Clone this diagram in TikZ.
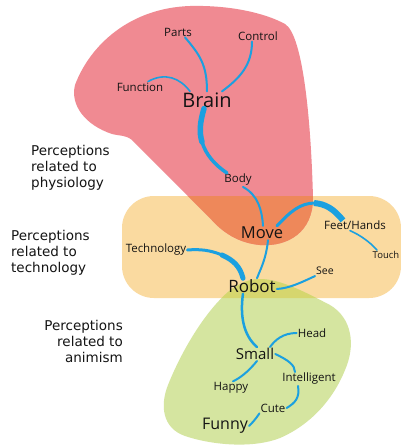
\documentclass[tikz,border=0pt]{standalone}
\usepackage{fontspec}
\setmainfont{Open Sans}
\newfontfamily\sidefont{DejaVu Sans}
\definecolor{pinkc}{RGB}{240,138,146}
\definecolor{yellowc}{RGB}{250,218,160}
\definecolor{orangec}{RGB}{238,136,90}
\definecolor{greenc}{RGB}{213,229,160}
\definecolor{ygc}{RGB}{214,214,110}
\definecolor{bluec}{RGB}{27,160,224}
\definecolor{textc}{RGB}{20,20,20}
\begin{document}
\begin{tikzpicture}[x=1pt,y=-1pt,
  lbl/.style={inner sep=1pt,text=textc,font=\fontsize{11.5}{13}\selectfont},
  big/.style={inner sep=1pt,text=textc},
  side/.style={inner sep=0pt,text=textc,font=\sidefont\fontsize{13.5}{16}\selectfont},
  conn/.style={draw=bluec,line width=2pt,line cap=round},
  thick conn/.style={draw=bluec,line width=4.5pt,line cap=round}]
\useasboundingbox (0,0) rectangle (401,445);
\fill[white] (0,0) rectangle (401,445);
% regions
\def\pinkpath{(75,85) .. controls (90,45) and (130,8) .. (190,6) .. controls (230,5) and (265,13) .. (285,24) .. controls (303,35) and (311,120) .. (313,198) .. controls (313,232) and (288,247) .. (260,245) .. controls (238,243) and (222,232) .. (210,218) -- (132,140) .. controls (126,135) and (120,136) .. (112,134) .. controls (85,125) and (70,105) .. (75,85) -- cycle}
\def\greenpath{(260,279) .. controls (280,279) and (305,292) .. (330,305) .. controls (352,318) and (356,345) .. (345,370) .. controls (333,400) and (310,425) .. (280,438) .. controls (255,448) and (215,446) .. (185,436) .. controls (162,428) and (160,405) .. (168,385) .. controls (182,350) and (205,312) .. (228,292) .. controls (238,284) and (248,279) .. (260,279) -- cycle}
\def\yellowpath{(122,196) rectangle (401,298)}
\fill[yellowc,rounded corners=32pt] \yellowpath;
\fill[pinkc] \pinkpath;
\fill[greenc] \greenpath;
\begin{scope}
  \clip[rounded corners=32pt] \yellowpath;
  \fill[orangec] \pinkpath;
  \fill[ygc] \greenpath;
\end{scope}
% side labels
\node[side,align=left,anchor=north west] (physio) at (31,145) {Perceptions\\related to\\physiology};
\node[side,align=left,anchor=north west] (techlbl) at (11,230) {Perceptions\\related to\\technology};
\node[side,align=right,anchor=north east] (anim) at (123,320) {Perceptions\\related to\\animism};
% nodes
\node[lbl] (parts) at (178,32) {Parts};
\node[lbl] (control) at (258,36) {Control};
\node[lbl] (function) at (140,87) {Function};
\node[big,font=\fontsize{20}{22}\selectfont] (brain) at (207,100) {Brain};
\node[lbl] (body) at (238,180) {Body};
\node[big,font=\fontsize{16.5}{18}\selectfont] (move) at (262,233) {Move};
\node[lbl] (feet) at (355,225) {Feet/Hands};
\node[lbl,font=\fontsize{9.5}{11}\selectfont] (touch) at (386,255) {Touch};
\node[lbl] (tech) at (156,250) {Technology};
\node[lbl,font=\fontsize{10.5}{12}\selectfont] (see) at (325,271) {See};
\node[big,font=\fontsize{17}{19}\selectfont] (robot) at (252,286) {Robot};
\node[lbl] (head) at (312,333) {Head};
\node[big,font=\fontsize{15}{17}\selectfont] (small) at (255,354) {Small};
\node[lbl] (intel) at (309,379) {Intelligent};
\node[lbl] (happy) at (231,388) {Happy};
\node[lbl] (cute) at (273,408) {Cute};
\node[big,font=\fontsize{16}{18}\selectfont] (funny) at (225,426) {Funny};
% connectors
\draw[conn] ([xshift=7pt]parts.south) .. controls (200,55) and (207,65) .. ([xshift=0pt]brain.north);
\draw[conn] ([xshift=-6pt]control.south) .. controls (252,65) and (240,78) .. ([xshift=15pt]brain.north);
\draw[conn,line width=1.6pt] ([xshift=8pt]function.north) .. controls (165,72) and (180,78) .. ([xshift=-17pt]brain.north);
% brain - body, tapering towards body
\draw[thick conn,line width=5.5pt] ([xshift=-3pt]brain.south) .. controls (200,122) and (199,132) .. (202,142);
\draw[thick conn,line width=3.5pt] (202,142) .. controls (206,155) and (215,165) .. ([xshift=-11pt]body.north);
\draw[conn] ([xshift=5pt]body.south) .. controls (258,195) and (262,210) .. ([xshift=1pt]move.north);
% move - feet, thickening towards feet
\draw[thick conn,line width=3pt] ([xshift=15pt]move.north) .. controls (290,212) and (300,203) .. (315,203);
\draw[thick conn,line width=6pt,line cap=butt] (314,203) .. controls (325,204) and (333,208) .. ([xshift=-12pt,yshift=-1pt]feet.north);
\draw[conn,line width=1.6pt] ([xshift=-5pt]feet.south) .. controls (360,235) and (370,242) .. ([xshift=-9pt]touch.north);
% technology - robot, thickening towards robot
\draw[thick conn,line width=3pt] (tech.east) .. controls (200,249) and (210,250) .. (222,255);
\draw[thick conn,line width=5pt] (222,255) .. controls (233,260) and (240,266) .. ([xshift=-9pt]robot.north);
\draw[conn] ([xshift=6pt]move.south) .. controls (266,260) and (260,270) .. ([xshift=5pt]robot.north);
\draw[conn] (see.south west) .. controls (300,283) and (290,288) .. ([yshift=-3pt]robot.east);
\draw[conn,line width=2.5pt] ([xshift=-9pt]robot.south) .. controls (240,315) and (243,335) .. ([xshift=2pt]small.north);
\draw[conn] (head.west) .. controls (283,333) and (275,340) .. ([xshift=15pt]small.north);
\draw[conn] (small.east) .. controls (288,360) and (295,365) .. ([xshift=-14pt]intel.north);
\draw[conn] ([xshift=2pt]small.south) .. controls (248,372) and (240,378) .. ([xshift=2pt]happy.north);
\draw[conn] ([xshift=-11pt]intel.south) .. controls (300,398) and (295,403) .. (cute.east);
\draw[conn] (cute.south west) .. controls (255,420) and (252,423) .. (funny.east);
\end{tikzpicture}
\end{document}
